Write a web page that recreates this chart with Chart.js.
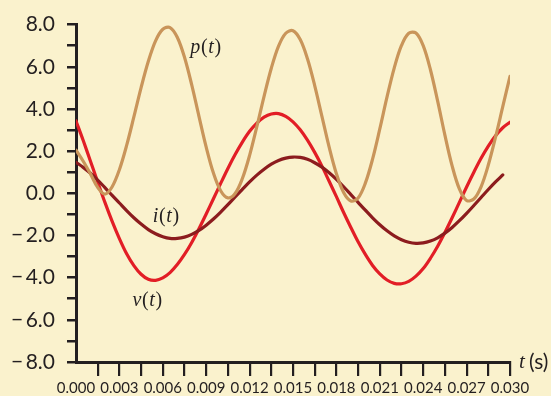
<!DOCTYPE html>
<html>
<head>
<meta charset="utf-8">
<script src="https://cdn.jsdelivr.net/npm/chart.js@4/dist/chart.umd.min.js"></script>
<style>
  html, body { margin: 0; padding: 0; background: #faf2cd; }
  #wrap { width: 551px; height: 396px; }
  canvas { display: block; background: #faf2cd; }
</style>
</head>
<body>
<div id="wrap"><canvas id="waves" width="551" height="396"></canvas></div>
<script>
// time samples (s), every 0.5 ms
var tSec = [
  0.0000, 0.0005, 0.0010, 0.0015, 0.0020, 0.0025, 0.0030, 0.0035, 0.0040, 0.0045,
  0.0050, 0.0055, 0.0060, 0.0065, 0.0070, 0.0075, 0.0080, 0.0085, 0.0090, 0.0095,
  0.0100, 0.0105, 0.0110, 0.0115, 0.0120, 0.0125, 0.0130, 0.0135, 0.0140, 0.0145,
  0.0150, 0.0155, 0.0160, 0.0165, 0.0170, 0.0175, 0.0180, 0.0185, 0.0190, 0.0195,
  0.0200, 0.0205, 0.0210, 0.0215, 0.0220, 0.0225, 0.0230, 0.0235, 0.0240, 0.0245,
  0.0250, 0.0255, 0.0260, 0.0265, 0.0270, 0.0275, 0.0280, 0.0285, 0.0290, 0.0295,
  0.0300
];

// v(t)
var vVals = [
  3.43, 2.50, 1.52, 0.54, -0.43, -1.33, -2.15, -2.87, -3.43, -3.84,
  -4.08, -4.13, -4.01, -3.76, -3.38, -2.90, -2.33, -1.68, -0.98, -0.26,
  0.47, 1.18, 1.84, 2.43, 2.94, 3.33, 3.61, 3.76, 3.78, 3.65,
  3.39, 3.01, 2.52, 1.94, 1.29, 0.57, -0.16, -0.91, -1.62, -2.30,
  -2.90, -3.42, -3.82, -4.11, -4.27, -4.29, -4.18, -3.93, -3.57, -3.08,
  -2.51, -1.86, -1.16, -0.43, 0.30, 1.00, 1.66, 2.24, 2.73, 3.11,
  3.37
];

// i(t), dark red curve (stops just before 0.030)
var iVals = [
  1.47, 1.23, 0.95, 0.63, 0.27, -0.10, -0.46, -0.82, -1.16, -1.46,
  -1.72, -1.92, -2.06, -2.14, -2.14, -2.08, -1.95, -1.76, -1.51, -1.22,
  -0.89, -0.54, -0.17, 0.19, 0.54, 0.86, 1.14, 1.38, 1.56, 1.67,
  1.72, 1.70, 1.61, 1.45, 1.24, 0.97, 0.66, 0.31, -0.06, -0.43,
  -0.80, -1.16, -1.49, -1.78, -2.02, -2.20, -2.32, -2.37, -2.35, -2.26,
  -2.11, -1.89, -1.62, -1.30, -0.95, -0.58, -0.20, 0.18, 0.54, 0.87,
  null
];

// p(t), tan curve
var pVals = [
  2.05, 1.52, 0.92, 0.28, -0.04, 0.31, 1.12, 2.27, 3.62, 5.01,
  6.26, 7.23, 7.78, 7.86, 7.40, 6.45, 5.14, 3.65, 2.19, 0.96,
  0.12, -0.22, -0.01, 0.70, 1.80, 3.16, 4.60, 5.93, 6.98, 7.59,
  7.71, 7.29, 6.38, 5.11, 3.65, 2.19, 0.93, 0.04, -0.36, -0.22,
  0.48, 1.62, 3.05, 4.57, 5.95, 7.01, 7.59, 7.60, 7.00, 5.86,
  4.37, 2.76, 1.30, 0.21, -0.34, -0.27, 0.31, 1.34, 2.66, 4.11,
  5.55
];

// curve names and where they sit (t, value)
var curveNames = ['p(t)', 'i(t)', 'v(t)'];
var curveLabelAt = [[0.0079, 6.9], [0.0053, -1.1], [0.0039, -5.1]];

var AXIS = '#231f20';
var TAN = '#c9955a';
var RED = '#e21e26';
var DARK = '#8c1c1e';

function pts(vals) {
  return tSec.map(function (t, k) { return { x: t, y: vals[k] }; });
}

function yLabel(v) {
  if (Math.round(v) % 2 !== 0) return '';
  var s = Math.abs(v).toFixed(1);
  return v < 0 ? '\u2212\u2009' + s : s;
}

// draws "p(t)" style text: letters italic, brackets upright
function mathText(ctx, str, x, y, size) {
  for (var n = 0; n < str.length; n++) {
    var ch = str[n];
    var upright = (ch === '(' || ch === ')');
    ctx.font = (upright ? '' : 'italic ') + size + 'px "Liberation Serif", "DejaVu Serif", serif';
    ctx.fillText(ch, x, y);
    x += ctx.measureText(ch).width + (upright ? 0.5 : 0.8);
  }
  return x;
}

var labelPlugin = {
  id: 'curveLabels',
  afterDraw: function (chart) {
    var ctx = chart.ctx;
    var xs = chart.scales.x, ys = chart.scales.y;
    ctx.save();
    ctx.fillStyle = AXIS;
    ctx.textBaseline = 'middle';
    ctx.textAlign = 'left';
    curveNames.forEach(function (name, k) {
      mathText(ctx, name, xs.getPixelForValue(curveLabelAt[k][0]), ys.getPixelForValue(curveLabelAt[k][1]), 20);
    });
    // axis title at the end of the time axis
    var ax = chart.chartArea.right + 9;
    var ay = chart.chartArea.bottom;
    ctx.font = 'italic 21px "Liberation Serif", serif';
    ctx.fillText('t', ax, ay);
    ctx.font = '21px Lato, sans-serif';
    ctx.fillText('(s)', ax + 10, ay);
    ctx.restore();
  }
};

var chart = new Chart(document.getElementById('waves'), {
  type: 'line',
  data: {
    datasets: [
      { label: 'p(t)', data: pts(pVals), borderColor: TAN, borderWidth: 3.2 },
      { label: 'i(t)', data: pts(iVals), borderColor: DARK, borderWidth: 3.2 },
      { label: 'v(t)', data: pts(vVals), borderColor: RED, borderWidth: 3.2 }
    ]
  },
  options: {
    responsive: false,
    animation: false,
    layout: { padding: { top: 22, right: 41, bottom: 0, left: 0 } },
    elements: {
      point: { radius: 0 },
      line: { tension: 0.35, fill: false, borderCapStyle: 'round' }
    },
    plugins: { legend: { display: false }, tooltip: { enabled: false } },
    scales: {
      x: {
        type: 'linear',
        min: 0,
        max: 0.030,
        afterFit: function (s) { s.height = 34; },
        border: { color: AXIS, width: 3 },
        grid: {
          drawOnChartArea: false,
          tickLength: 14,
          lineWidth: 2.2,
          color: function (c) { return c.index === 0 ? 'rgba(0,0,0,0)' : AXIS; }
        },
        ticks: {
          stepSize: 0.0015,
          autoSkip: false,
          maxRotation: 0,
          padding: 3,
          color: AXIS,
          font: { family: 'Lato', size: 15 },
          callback: function (v, i) { return i % 2 === 0 ? v.toFixed(3) : ''; }
        }
      },
      y: {
        min: -8,
        max: 8,
        afterFit: function (s) { s.width = 76; },
        border: { color: AXIS, width: 3 },
        grid: { drawOnChartArea: false, tickLength: 9, lineWidth: 2.5, color: AXIS },
        ticks: {
          stepSize: 1,
          autoSkip: false,
          padding: 12,
          color: AXIS,
          font: { family: 'Lato', size: 21 },
          callback: yLabel
        }
      }
    }
  },
  plugins: [labelPlugin]
});
</script>
</body>
</html>
